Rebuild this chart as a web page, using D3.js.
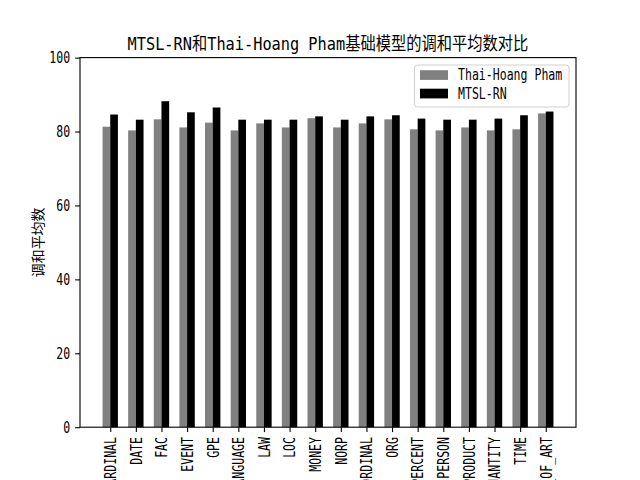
<!DOCTYPE html>
<html>
<head>
<meta charset="utf-8">
<script src="https://cdn.jsdelivr.net/npm/d3@7"></script>
<style>
  html, body { margin: 0; padding: 0; background: #fff; overflow: hidden; }
  svg text { font-family: "DejaVu Sans Mono", "Noto Sans CJK SC", sans-serif; }
</style>
</head>
<body>
<svg id="chart" width="640" height="480"></svg>
<script>
const categories = ["CARDINAL","DATE","FAC","EVENT","GPE","LANGUAGE","LAW","LOC","MONEY","NORP","ORDINAL","ORG","PERCENT","PERSON","PRODUCT","QUANTITY","TIME","WORK_OF_ART"];
const thaiHoang = [81.3,80.3,83.3,81.1,82.4,80.3,82.2,81.1,83.6,81.1,82.2,83.3,80.6,80.3,81.1,80.3,80.6,84.9];
const mtslRN    = [84.6,83.2,88.2,85.2,86.5,83.2,83.2,83.2,84.1,83.2,84.1,84.4,83.5,83.2,83.2,83.5,84.4,85.4];
const yTicks = [0,20,40,60,80,100];
const seriesNames = ["Thai-Hoang Pham","MTSL-RN"];
const seriesColors = ["#808080","#000000"];
const title = "MTSL-RN和Thai-Hoang Pham基础模型的调和平均数对比";
const yLabel = "调和平均数";

const svg = d3.select("#chart");
const L = 80, R = 576, T = 57.6, B = 427.2;

// emulate SimHei metrics: CJK = 1em, others = 0.5em
function textLen(s, fs) {
  let w = 0;
  for (const ch of s) w += (ch.charCodeAt(0) > 0x2e80 ? 1 : 0.5);
  return w * fs;
}
function fit(sel, fs) {
  sel.attr("textLength", function() { return textLen(d3.select(this).text(), fs); })
     .attr("lengthAdjust", "spacingAndGlyphs");
}

const n = categories.length;
const barW = 0.3;
const lo = -barW, hi = (n - 1) + barW;
const m = (hi - lo) * 0.05;
const x = d3.scaleLinear().domain([lo - m, hi + m]).range([L, R]);
const y = d3.scaleLinear().domain([0, 100]).range([B, T]);

// bars
const series = [thaiHoang, mtslRN];
series.forEach((vals, si) => {
  const off = si === 0 ? -barW / 2 : barW / 2;
  svg.append("g").selectAll("rect").data(vals).join("rect")
    .attr("x", (d, i) => x(i + off - barW / 2))
    .attr("width", (d, i) => x(i + off + barW / 2) - x(i + off - barW / 2))
    .attr("y", d => y(d))
    .attr("height", d => y(0) - y(d))
    .attr("fill", seriesColors[si]);
});

// frame
svg.append("rect").attr("x", L).attr("y", T).attr("width", R - L).attr("height", B - T)
  .attr("fill", "none").attr("stroke", "#000").attr("stroke-width", 1.1);

const tfs = 13.9;   // metric size
const vfs = 15.2;   // visual glyph size
// y axis
const yAxis = svg.append("g").attr("transform", `translate(${L},0)`)
  .call(d3.axisLeft(y).tickValues(yTicks).tickSize(4.9).tickPadding(4.9));
yAxis.select(".domain").remove();
yAxis.selectAll("line").attr("stroke", "#000").attr("stroke-width", 1.1);
yAxis.selectAll("text").attr("font-size", vfs).attr("fill", "#000").each(function(){ fit(d3.select(this), tfs); });

// x axis
const xAxis = svg.append("g").attr("transform", `translate(0,${B})`)
  .call(d3.axisBottom(x).tickValues(d3.range(n)).tickFormat(i => categories[i]).tickSize(4.9).tickPadding(4.9));
xAxis.select(".domain").remove();
xAxis.selectAll("line").attr("stroke", "#000").attr("stroke-width", 1.1);
xAxis.selectAll("text")
  .attr("font-size", vfs).attr("fill", "#000")
  .attr("transform", "rotate(-90)")
  .attr("x", -9.8).attr("y", 0).attr("dy", "0.35em")
  .attr("text-anchor", "end")
  .each(function(){ fit(d3.select(this), tfs); });

// y label
svg.append("text").text(yLabel)
  .attr("transform", `translate(43,${(T + B) / 2}) rotate(-90)`)
  .attr("text-anchor", "middle").attr("font-size", tfs).attr("fill", "#000")
  .call(s => fit(s, tfs));

// title
const titleFs = 16.7;
svg.append("text").text(title)
  .attr("x", (L + R) / 2).attr("y", T - 8)
  .attr("text-anchor", "middle").attr("font-size", titleFs + 1).attr("fill", "#000")
  .call(s => fit(s, titleFs));

// legend
const lg = svg.append("g");
lg.append("rect").attr("x", 414.5).attr("y", 65).attr("width", 154.5).attr("height", 42)
  .attr("rx", 3).attr("fill", "#fff").attr("fill-opacity", 0.8)
  .attr("stroke", "#d0d0d0").attr("stroke-width", 1);
seriesNames.forEach((name, i) => {
  const cy = 75 + i * 18.5;
  lg.append("rect").attr("x", 420).attr("y", cy - 4.8).attr("width", 28).attr("height", 9.7)
    .attr("fill", seriesColors[i]);
  lg.append("text").text(name).attr("x", 458).attr("y", cy).attr("dy", "0.35em")
    .attr("font-size", vfs).attr("fill", "#000").call(s => fit(s, tfs));
});
</script>
</body>
</html>
